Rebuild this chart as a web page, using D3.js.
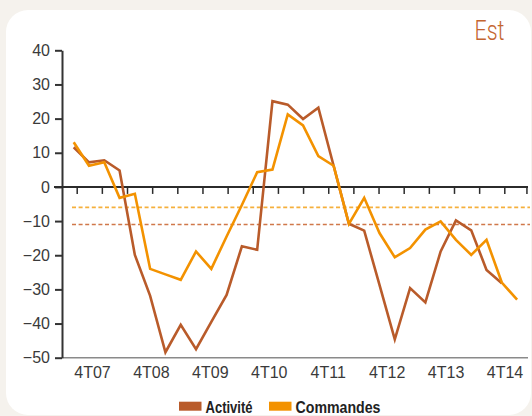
<!DOCTYPE html>
<html>
<head>
<meta charset="utf-8">
<script src="https://cdn.jsdelivr.net/npm/d3@7"></script>
<style>
  html, body { margin: 0; padding: 0; background: #f5f2ed; }
  svg { display: block; }
</style>
</head>
<body>
<svg id="chart" width="532" height="416"></svg>
<script>
// Soldes d'opinion, région Est (quarterly, from 4T07)
const quarters = d3.range(30); // 4T07 .. 1T15
const activite = [11.6, 7.2, 7.8, 4.8, -19.9, -31.9, -48.4, -40.4, -47.5, -39.5,
                  -31.6, -17.4, -18.4, 25.1, 24.1, 19.9, 23.2, 6.2, -10.8, -12.8,
                  -28.7, -44.6, -29.6, -33.8, -18.9, -9.8, -12.7, -24.3, -28.2];
const commandes = [13.1, 6.2, 7.2, -3.2, -2.0, -24.0, -25.6, -27.2, -18.9, -24.0,
                   -14.5, -5.3, 4.3, 5.1, 21.2, 18.0, 9.0, 6.2, -10.8, -3.2,
                   -13.5, -20.6, -17.9, -12.5, -10.1, -15.5, -19.9, -15.5, -28.0, -33.0];
// long-run averages
const moyenneActivite = -11;
const moyenneCommandes = -6;
const yTicks = [40, 30, 20, 10, 0, -10, -20, -30, -40, -50];
const yearLabels = ["4T07", "4T08", "4T09", "4T10", "4T11", "4T12", "4T13", "4T14"];
const seriesNames = ["Activité", "Commandes"];

const colors = { "Activité": "#b95b2a", "Commandes": "#f39200" };
const avgColors = { "Activité": "#d0784a", "Commandes": "#f5b03c" };

const svg = d3.select("#chart");

// card
svg.append("rect")
  .attr("x", 6).attr("y", 10).attr("width", 525).attr("height", 405)
  .attr("rx", 22).attr("ry", 22)
  .attr("fill", "#ffffff");

// title (condensed light face)
svg.append("text")
  .attr("x", 474.5).attr("y", 40)
  .attr("font-family", "Roboto, sans-serif")
  .attr("font-weight", 300)
  .attr("font-size", 27.5)
  .attr("fill", "#c4652f")
  .attr("textLength", 30)
  .attr("lengthAdjust", "spacingAndGlyphs")
  .text("Est");

const x = d3.scaleLinear().domain([0, 29]).range([73.7, 517.1]);
const y = d3.scaleLinear().domain([-50, 40]).range([357.7, 50.3]);
const xTickScale = d3.scaleLinear().domain([0, 17]).range([76.7, 504.3]);
const xLabel = d3.scalePoint().domain(yearLabels).range([92.5, 505]);

const left = 62, right = 528;

// bottom baseline at -50
svg.append("line")
  .attr("x1", left).attr("x2", right)
  .attr("y1", y(-50)).attr("y2", y(-50))
  .attr("stroke", "#8a8a8a").attr("stroke-width", 1.6);

// y axis
const yAxis = svg.append("g")
  .attr("transform", `translate(${left},0)`)
  .call(d3.axisLeft(y).tickValues(yTicks).tickSize(7).tickPadding(5).tickSizeOuter(0));
yAxis.select(".domain").attr("stroke", "#333").attr("stroke-width", 2);
yAxis.selectAll(".tick line").attr("stroke", "#333").attr("stroke-width", 2);
yAxis.selectAll(".tick text")
  .attr("font-family", "'Liberation Sans', Arial, sans-serif")
  .attr("font-size", 16)
  .attr("fill", "#3a3a3a");

// zero line with quarter ticks
svg.append("line")
  .attr("x1", 54).attr("x2", right)
  .attr("y1", y(0)).attr("y2", y(0))
  .attr("stroke", "#2b2b2b").attr("stroke-width", 2);
const xAxis = svg.append("g")
  .attr("transform", `translate(0,${y(0)})`)
  .call(d3.axisBottom(xTickScale).tickValues(d3.range(18).concat([17.88])).tickSize(7).tickFormat(""));
xAxis.select(".domain").remove();
xAxis.selectAll(".tick line").attr("stroke", "#2b2b2b").attr("stroke-width", 1.5);

// year labels
svg.append("g").selectAll("text")
  .data(yearLabels)
  .join("text")
  .attr("x", d => xLabel(d))
  .attr("y", 378.3)
  .attr("text-anchor", "middle")
  .attr("font-family", "'Liberation Sans', Arial, sans-serif")
  .attr("font-size", 16)
  .attr("fill", "#3a3a3a")
  .text(d => d);

// average levels (dashed)
const averages = [
  { name: "Commandes", value: moyenneCommandes },
  { name: "Activité", value: moyenneActivite }
];
svg.append("g").selectAll("line")
  .data(averages)
  .join("line")
  .attr("x1", 72).attr("x2", 530)
  .attr("y1", d => y(d.value)).attr("y2", d => y(d.value))
  .attr("stroke", d => avgColors[d.name])
  .attr("stroke-width", 1.6)
  .attr("stroke-dasharray", "4,2.6");

// series lines
const line = d3.line().x((d, i) => x(quarters[i])).y(d => y(d));
const series = [
  { name: "Activité", values: activite },
  { name: "Commandes", values: commandes }
];
svg.append("g").selectAll("path")
  .data(series)
  .join("path")
  .attr("d", d => line(d.values))
  .attr("fill", "none")
  .attr("stroke", d => colors[d.name])
  .attr("stroke-width", 2.6)
  .attr("stroke-linejoin", "miter");

// legend
const legendX = d3.scaleOrdinal().domain(seriesNames).range([179, 269]);
const legendWidths = d3.scaleOrdinal().domain(seriesNames).range([47, 85]);
const legend = svg.append("g").selectAll("g")
  .data(seriesNames)
  .join("g")
  .attr("transform", d => `translate(${legendX(d)},401.7)`);
legend.append("rect")
  .attr("width", 22.5).attr("height", 9)
  .attr("fill", d => colors[d]);
legend.append("text")
  .attr("x", 26.5).attr("y", 11)
  .attr("font-family", "'Liberation Sans', Arial, sans-serif")
  .attr("font-weight", "bold")
  .attr("font-size", 16.5)
  .attr("fill", "#222")
  .attr("textLength", d => legendWidths(d))
  .attr("lengthAdjust", "spacingAndGlyphs")
  .text(d => d);
</script>
</body>
</html>
